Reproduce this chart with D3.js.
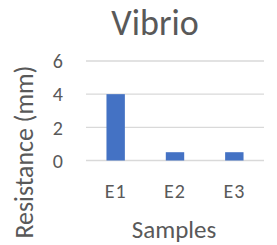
<!DOCTYPE html>
<html>
<head>
<meta charset="utf-8">
<script src="https://cdn.jsdelivr.net/npm/d3@7"></script>
<style>
	body { margin: 0; background: #fff; }
	svg { display: block; font-family: Carlito, Lato, "Open Sans", sans-serif; }
</style>
</head>
<body>
<svg id="chart" width="277" height="245"></svg>
<script>
var categories = ['E1', 'E2', 'E3'];
var values = [4, 0.5, 0.5];
var yTicks = [0, 2, 4, 6];

var svg = d3.select('#chart');

var x = d3.scaleBand()
	.domain(categories)
	.range([86, 264])
	.paddingInner(0.69)
	.paddingOuter(0.345);

var y = d3.scaleLinear()
	.domain([0, 6])
	.range([160.5, 61]);

// gridlines
svg.append('g')
	.selectAll('line')
	.data(yTicks)
	.enter()
	.append('line')
	.attr('x1', 86)
	.attr('x2', 264)
	.attr('y1', d => y(d))
	.attr('y2', d => y(d))
	.attr('stroke', '#d9d9d9')
	.attr('stroke-width', 1.3);

// bars
svg.append('g')
	.selectAll('rect')
	.data(values)
	.enter()
	.append('rect')
	.attr('x', (d, i) => x(categories[i]))
	.attr('width', x.bandwidth())
	.attr('y', d => y(d))
	.attr('height', d => y(0) - y(d))
	.attr('fill', '#4472c4');

// y tick labels
svg.append('g')
	.selectAll('text')
	.data(yTicks)
	.enter()
	.append('text')
	.attr('x', 63)
	.attr('y', d => y(d))
	.attr('dy', '0.36em')
	.attr('text-anchor', 'end')
	.attr('fill', '#595959')
	.style('font-size', '20px')
	.text(d => d);

// x labels
svg.append('g')
	.selectAll('text')
	.data(categories)
	.enter()
	.append('text')
	.attr('x', d => x(d) + x.bandwidth() / 2)
	.attr('y', 198)
	.attr('text-anchor', 'middle')
	.attr('fill', '#595959')
	.style('font-size', '20px')
	.style('letter-spacing', '1px')
	.text(d => d);

// title
svg.append('text')
	.attr('x', 155)
	.attr('y', 35)
	.attr('text-anchor', 'middle')
	.attr('fill', '#595959')
	.style('font-size', '36px')
	.text('Vibrio');

// axis titles
svg.append('text')
	.attr('x', 174)
	.attr('y', 238)
	.attr('text-anchor', 'middle')
	.attr('fill', '#595959')
	.style('font-size', '25px')
	.text('Samples');

var yTitle = svg.append('text')
	.attr('transform', 'translate(33,152) rotate(-90)')
	.attr('text-anchor', 'middle')
	.attr('fill', '#595959')
	.style('font-size', '25px')
	.text('Resistance (mm)');

// fit the rotated title to the length it has in the original (~173px)
var len = yTitle.node().getComputedTextLength();
yTitle.style('font-size', (25 * 173 / len).toFixed(1) + 'px');
</script>
</body>
</html>
